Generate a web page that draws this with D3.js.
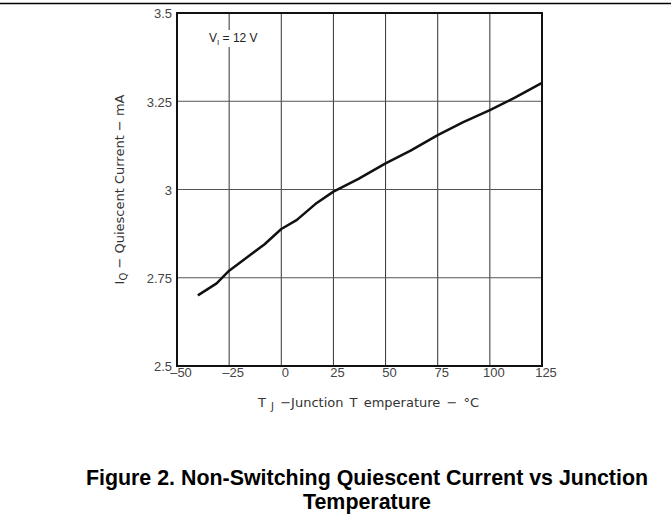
<!DOCTYPE html>
<html>
<head>
<meta charset="utf-8">
<script src="https://cdn.jsdelivr.net/npm/d3@7"></script>
<style>
  body { margin: 0; background: #fff; }
  svg { display: block; }
  text { font-family: "Liberation Sans", Arial, sans-serif; }
</style>
</head>
<body>
<div id="chart"></div>
<script>
// (V_I = 12 V)
var temps   = [-40, -31, -25, -8, 0, 7.5, 17, 25, 37, 50, 62, 75, 87, 100, 112, 125];
var current = [2.70, 2.734, 2.77, 2.845, 2.888, 2.914, 2.962, 2.994, 3.03, 3.074, 3.11, 3.154, 3.19, 3.225, 3.26, 3.302];

var xTicks = [-50, -25, 0, 25, 50, 75, 100, 125];
var yTicks = [2.5, 2.75, 3, 3.25, 3.5];

var width = 671, height = 523;
var margin = {top: 13, right: 129, bottom: 157, left: 177};
var w = width - margin.left - margin.right;
var h = height - margin.top - margin.bottom;

var svg = d3.select("#chart")
            .append("svg")
            .attr("width", width)
            .attr("height", height);

// rule across the page top
svg.append("line")
    .attr("x1", 0).attr("x2", width)
    .attr("y1", 3.5).attr("y2", 3.5)
    .attr("stroke", "#000")
    .attr("stroke-width", 1.5);

var g = svg.append("g")
    .attr("transform", "translate(" + margin.left + "," + margin.top + ")");

var x = d3.scaleLinear().domain([-50, 125]).range([0, w]);
var y = d3.scaleLinear().domain([2.5, 3.5]).range([h, 0]);

// grid
g.append("g")
    .selectAll("line")
    .data(xTicks.slice(1, -1))
    .join("line")
    .attr("x1", d => x(d)).attr("x2", d => x(d))
    .attr("y1", 0).attr("y2", h)
    .attr("stroke", "#333")
    .attr("stroke-width", 1);

g.append("g")
    .selectAll("line")
    .data(yTicks.slice(1, -1))
    .join("line")
    .attr("x1", 0).attr("x2", w)
    .attr("y1", d => y(d)).attr("y2", d => y(d))
    .attr("stroke", "#555")
    .attr("stroke-width", 1);

// axes (labels only, frame drawn separately)
var xAxis = g.append("g")
    .attr("transform", "translate(0," + h + ")")
    .call(d3.axisBottom(x).tickValues(xTicks).tickSize(0).tickPadding(2)
          .tickFormat(d => d < 0 ? "\u2013" + Math.abs(d) : d));
var yAxis = g.append("g")
    .call(d3.axisLeft(y).tickValues(yTicks).tickSize(0).tickPadding(5)
          .tickFormat(d => String(d)));

[xAxis, yAxis].forEach(function(a) {
    a.select(".domain").remove();
    a.selectAll("text")
        .attr("fill", "#444")
        .style("font-size", "13px")
        .style("font-family", "'Liberation Sans', Arial, sans-serif");
});
xAxis.selectAll("text").attr("dx", 3.5);
yAxis.selectAll("text").attr("dy", "0.38em");

// condition label with white knockout
var lab = g.append("g").attr("transform", "translate(" + (x(-50) + 32) + "," + 29 + ")");
lab.append("rect")
    .attr("x", -3).attr("y", -12)
    .attr("width", 62).attr("height", 17)
    .attr("fill", "#fff");
var lt = lab.append("text")
    .attr("fill", "#222")
    .style("font-size", "12px");
lt.append("tspan").text("V");
lt.append("tspan").attr("dy", 3).style("font-size", "8px").text("I");
lt.append("tspan").attr("dy", -3).text(" = 12 V");

// curve
var line = d3.line()
    .x(function(d, i) { return x(temps[i]); })
    .y(function(d) { return y(d); });

g.append("path")
    .datum(current)
    .attr("d", line)
    .attr("fill", "none")
    .attr("stroke", "#111")
    .attr("stroke-width", 2.5)
    .attr("stroke-linejoin", "round");

// frame
g.append("rect")
    .attr("width", w).attr("height", h)
    .attr("fill", "none")
    .attr("stroke", "#111")
    .attr("stroke-width", 2);

// axis titles
var xt = g.append("text")
    .attr("x", w / 2 + 9)
    .attr("y", h + 41)
    .attr("text-anchor", "middle")
    .attr("fill", "#333")
    .style("font-size", "13px")
    .style("font-family", "'DejaVu Sans', sans-serif")
    .style("word-spacing", "2px");
xt.append("tspan").text("T");
xt.append("tspan").attr("dy", 3).style("font-size", "10px").text(" J");
xt.append("tspan").attr("dy", -3).text("  \u2212Junction T emperature  \u2212  \u00B0C");

var yt = g.append("text")
    .attr("transform", "translate(" + (-53) + "," + (y(3.0)) + ") rotate(-90)")
    .attr("text-anchor", "middle")
    .attr("fill", "#333")
    .style("font-size", "13px")
    .style("font-family", "'DejaVu Sans', sans-serif");
yt.append("tspan").text("I");
yt.append("tspan").attr("dy", 3).style("font-size", "10px").text("Q");
yt.append("tspan").attr("dy", -3).text(" \u2212 Quiescent Current    \u2212 mA");

// figure caption
var cap = svg.append("text")
    .attr("text-anchor", "middle")
    .attr("fill", "#000")
    .style("font-size", "21.4px")
    .style("font-weight", "bold");
cap.append("tspan").attr("x", 367).attr("y", 485)
    .text("Figure 2. Non-Switching Quiescent Current vs Junction");
cap.append("tspan").attr("x", 367).attr("y", 509)
    .text("Temperature");
</script>
</body>
</html>
